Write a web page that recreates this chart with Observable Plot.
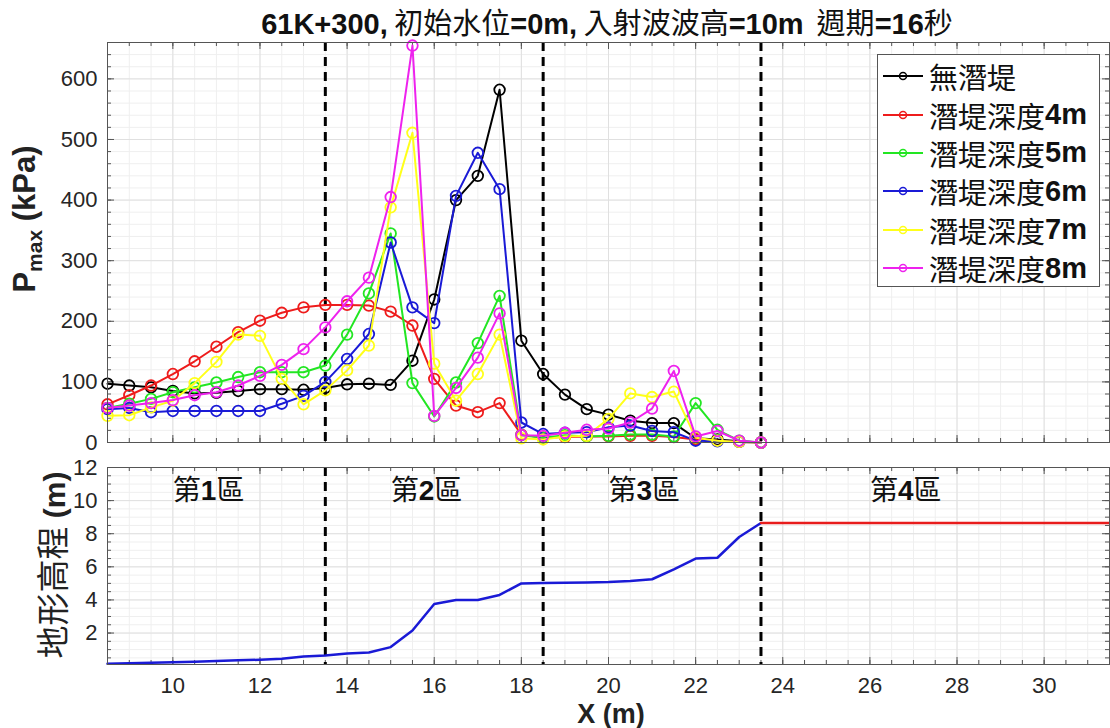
<!DOCTYPE html>
<html>
<head>
<meta charset="utf-8">
<script src="https://cdn.jsdelivr.net/npm/d3@7"></script>
<script src="https://cdn.jsdelivr.net/npm/@observablehq/plot@0.6"></script>
<style>
  body { margin: 0; background: #fff; }
  #wrap { position: relative; width: 1110px; height: 728px; overflow: hidden; background: #fff;
          font-family: "Liberation Sans", Arial, sans-serif; color: #262626; }
  .cjk { font-family: "Noto Sans CJK TC", "Noto Sans CJK SC", sans-serif; font-weight: 400; }
  .lat { font-family: "Liberation Sans", Arial, sans-serif; font-weight: 700; }
  #title { position: absolute; left: 104px; top: 0px; width: 1006px; text-align: center;
           font-size: 29px; line-height: normal; white-space: nowrap; color: #111; }
  .ylab { position: absolute; white-space: nowrap; transform: translate(-50%, -50%) rotate(-90deg); color: #222; }
  #legend { position: absolute; left: 877px; top: 54px; width: 223px; height: 233px;
            border: 1px solid #555; background: #fff; box-sizing: border-box; padding-top: 2px; }
  .lrow { height: 38.4px; display: flex; align-items: center; font-size: 29px; color: #111; white-space: nowrap; }
  .lrow svg { margin-left: 4px; margin-right: 5px; flex: none; }
</style>
</head>
<body>
<div id="wrap">
  <div id="pTop" style="position:absolute;left:0;top:0"></div>
  <div id="pBot" style="position:absolute;left:0;top:455px"></div>
  <div id="title"><span class="lat">61K+300,</span><span class="cjk">&nbsp;初始水位</span><span class="lat">=0m,</span><span class="cjk">&nbsp;入射波波高</span><span class="lat">=10m</span><span class="cjk">&nbsp;&nbsp;週期</span><span class="lat">=16</span><span class="cjk">秒</span></div>
  <div class="ylab lat" style="left:27px;top:219px;font-size:31px;">P<sub style="font-size:21px;">max</sub> (kPa)</div>
  <div class="ylab" style="left:51px;top:565px;font-size:33px;"><span class="cjk">地形高程</span><span class="lat" style="font-size:30px;"> (m)</span></div>
  <div class="lat" style="position:absolute;left:611px;top:714px;transform:translate(-50%,-50%);font-size:27px;line-height:28px;color:#222;white-space:nowrap;">X (m)</div>
  <div id="legend"></div>
</div>
<script>
// Measurement stations along the section (m)
const stationX = [8.5, 9, 9.5, 10, 10.5, 11, 11.5, 12, 12.5, 13, 13.5,
                  14, 14.5, 15, 15.5, 16, 16.5, 17, 17.5, 18, 18.5,
                  19, 19.5, 20, 20.5, 21, 21.5, 22, 22.5, 23, 23.5];

// Maximum pressure P_max (kPa) per case
const pNoBreakwater = [97, 94, 91, 85, 81, 82, 85, 88, 88, 87, 90,
                       96, 97, 95, 135, 236, 400, 440, 582, 168, 113,
                       79, 55, 46, 36, 32, 32, 7, 5, 2, 0];
const pDepth4 = [63, 78, 94, 113, 134, 158, 182, 201, 214, 223, 227,
                 227, 226, 216, 193, 105, 61, 50, 65, 13, 8,
                 9, 10, 10, 11, 11, 9, 5, 3, 1, 0];
const pDepth5 = [57, 64, 72, 83, 91, 99, 108, 116, 116, 116, 127,
                 178, 246, 345, 98, 43, 99, 164, 242, 12, 8,
                 12, 10, 11, 13, 13, 10, 65, 21, 3, 0];
const pDepth6 = [55, 57, 50, 52, 52, 52, 52, 52, 64, 77, 100,
                 138, 179, 330, 223, 197, 407, 478, 418, 33, 14,
                 16, 17, 25, 28, 19, 17, 3, 2, 1, 0];
const pDepth7 = [44, 45, 58, 69, 98, 133, 178, 176, 105, 63, 86,
                 119, 160, 388, 511, 130, 69, 113, 178, 7, 5,
                 10, 11, 39, 81, 75, 84, 8, 3, 1, 0];
const pDepth8 = [57, 61, 65, 70, 78, 83, 94, 110, 128, 154, 190,
                 233, 272, 405, 655, 44, 90, 140, 213, 12, 11,
                 16, 21, 23, 33, 56, 118, 10, 19, 3, 0];

const seriesNames = ["無潛堤", "潛堤深度4m", "潛堤深度5m", "潛堤深度6m", "潛堤深度7m", "潛堤深度8m"];
const seriesColors = ["#000000", "#ee1c1c", "#22e622", "#1a1ad6", "#ffff1a", "#ee22ee"];
const seriesValues = [pNoBreakwater, pDepth4, pDepth5, pDepth6, pDepth7, pDepth8];

// Bed elevation (m) along the section, and the flat crest beyond it
const bedElevation = [0.15, 0.18, 0.21, 0.24, 0.27, 0.31, 0.35, 0.39, 0.45, 0.58, 0.65,
                      0.77, 0.82, 1.15, 2.15, 3.75, 4.0, 4.0, 4.3, 5.0, 5.02,
                      5.04, 5.06, 5.08, 5.15, 5.25, 5.85, 6.5, 6.55, 7.8, 8.65];
const crestX = [23.5, 31.5];
const crestElevation = [8.65, 8.65];

// Zone boundaries and labels
const zoneBounds = [13.5, 18.5, 23.5];
const zoneLabelX = [10, 15, 20, 26];
const zoneLabels = ["第1區", "第2區", "第3區", "第4區"];
const zoneLabelY = 10.6;

// Axis ticks
const xTicks = [10, 12, 14, 16, 18, 20, 22, 24, 26, 28, 30];
const pTicks = [0, 100, 200, 300, 400, 500, 600];
const elevTicks = [2, 4, 6, 8, 10, 12];

const xDomain = [8.5, 31.5];
const pDomain = [0, 660];
const elevDomain = [0.1, 12];

const W = 1110, ML = 107, MR = 1;
const innerW = W - ML - MR;
const AX = "#555";

// Light major / minor grid, inward tick marks on all four sides
function frameMarks(xMajor, xMinor, yMajor, yMinor, innerH) {
  return [
    Plot.ruleX(xMinor, {stroke: "#efefef", strokeWidth: 1}),
    Plot.ruleY(yMinor, {stroke: "#efefef", strokeWidth: 1}),
    Plot.ruleX(xMajor, {stroke: "#e0e0e0", strokeWidth: 1}),
    Plot.ruleY(yMajor, {stroke: "#e0e0e0", strokeWidth: 1}),
    Plot.tickX(xMinor, {stroke: AX, insetTop: innerH - 4}),
    Plot.tickX(xMinor, {stroke: AX, insetBottom: innerH - 4}),
    Plot.tickX(xMajor, {stroke: AX, insetTop: innerH - 7}),
    Plot.tickX(xMajor, {stroke: AX, insetBottom: innerH - 7}),
    Plot.tickY(yMinor, {stroke: AX, insetRight: innerW - 4}),
    Plot.tickY(yMinor, {stroke: AX, insetLeft: innerW - 4}),
    Plot.tickY(yMajor, {stroke: AX, insetRight: innerW - 7}),
    Plot.tickY(yMajor, {stroke: AX, insetLeft: innerW - 7})
  ];
}

const xMinor = d3.range(9, 31.5, 0.5);

// ---- Upper panel: maximum pressure ----
const topH = 460, topMT = 42, topMB = 18;
const topInnerH = topH - topMT - topMB;

const seriesMarks = seriesNames.flatMap((name, i) => {
  const rows = stationX.map((x, j) => ({x, p: seriesValues[i][j], name}));
  return [
    Plot.line(rows, {x: "x", y: "p", stroke: seriesColors[i], strokeWidth: 2}),
    Plot.dot(rows, {x: "x", y: "p", stroke: seriesColors[i], r: 5.3, strokeWidth: 1.8, fill: "none"})
  ];
});

const topPlot = Plot.plot({
  width: W, height: topH,
  marginLeft: ML, marginRight: MR, marginTop: topMT, marginBottom: topMB,
  style: {fontFamily: "Liberation Sans, Arial, sans-serif", background: "transparent"},
  x: {domain: xDomain, axis: null},
  y: {domain: pDomain, axis: null},
  marks: [
    ...frameMarks(xTicks, xMinor, pTicks.slice(1), d3.range(20, 660, 20), topInnerH),
    Plot.axisY(pTicks, {anchor: "left", tickSize: 0, tickPadding: 10, fontSize: 22, color: "#262626", label: null}),
    Plot.ruleX(zoneBounds, {stroke: "#000", strokeWidth: 3, strokeDasharray: "9,6"}),
    ...seriesMarks,
    Plot.frame({stroke: AX, strokeWidth: 1})
  ]
});
document.getElementById("pTop").appendChild(topPlot);

// ---- Lower panel: bed profile ----
const botH = 273, botMT = 12, botMB = 64;
const botInnerH = botH - botMT - botMB;
const bedRows = stationX.map((x, j) => ({x, z: bedElevation[j]}));
const crestRows = crestX.map((x, j) => ({x, z: crestElevation[j]}));
const zoneRows = zoneLabels.map((t, j) => ({x: zoneLabelX[j], y: zoneLabelY, t}));

const botPlot = Plot.plot({
  width: W, height: botH,
  marginLeft: ML, marginRight: MR, marginTop: botMT, marginBottom: botMB,
  style: {fontFamily: "Liberation Sans, Arial, sans-serif", background: "transparent"},
  x: {domain: xDomain, axis: null},
  y: {domain: elevDomain, axis: null},
  marks: [
    ...frameMarks(xTicks, xMinor, elevTicks, d3.range(0.5, 12, 0.5), botInnerH),
    Plot.axisY(elevTicks, {anchor: "left", tickSize: 0, tickPadding: 10, fontSize: 22, color: "#262626", label: null}),
    Plot.axisX(xTicks, {anchor: "bottom", tickSize: 0, tickPadding: 13, fontSize: 22, color: "#262626", label: null}),
    Plot.ruleX(zoneBounds, {stroke: "#000", strokeWidth: 3, strokeDasharray: "9,6"}),
    Plot.line(bedRows, {x: "x", y: "z", stroke: "#1a1ad6", strokeWidth: 2.5}),
    Plot.line(crestRows, {x: "x", y: "z", stroke: "#e81c1c", strokeWidth: 2.5}),
    Plot.text(zoneRows, {x: "x", y: "y", text: "t", textAnchor: "start", fontSize: 28, fill: "#111",
                         fontFamily: "Noto Sans CJK TC, sans-serif", className: "zone"}),
    Plot.frame({stroke: AX, strokeWidth: 1})
  ]
});
document.getElementById("pBot").appendChild(botPlot);

// Digits of the zone labels set in bold Latin type
d3.select(botPlot).selectAll(".zone text").each(function () {
  const s = this.textContent;
  const m = s.match(/^(\D*)(\d+)(\D*)$/);
  if (!m) return;
  const el = d3.select(this);
  el.text(null);
  el.append("tspan").text(m[1]);
  el.append("tspan").attr("font-family", "Liberation Sans, Arial, sans-serif").attr("font-weight", 700).text(m[2]);
  el.append("tspan").text(m[3]);
});

// Legend
const legend = d3.select("#legend");
seriesNames.forEach((name, i) => {
  const row = legend.append("div").attr("class", "lrow");
  const sw = row.append("svg").attr("width", 42).attr("height", 14);
  sw.append("line").attr("x1", 1).attr("x2", 41).attr("y1", 7).attr("y2", 7)
    .attr("stroke", seriesColors[i]).attr("stroke-width", 2);
  sw.append("circle").attr("cx", 21).attr("cy", 7).attr("r", 3.5)
    .attr("fill", "none").attr("stroke", seriesColors[i]).attr("stroke-width", 1.5);
  const m = name.match(/^(\D+)(\d+m)?$/);
  row.append("span").attr("class", "cjk").text(m[1]);
  if (m[2]) row.append("span").attr("class", "lat").text(m[2]);
});
</script>
</body>
</html>
